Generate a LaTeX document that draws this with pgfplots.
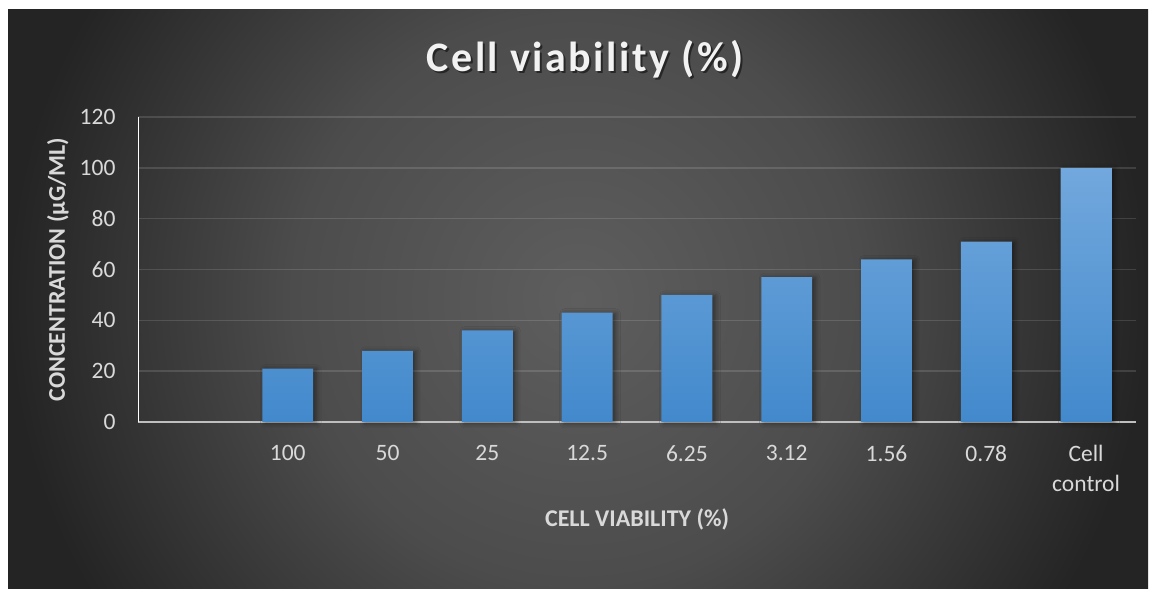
\documentclass[border=0pt]{standalone}
\usepackage{pgfplots}
\pgfplotsset{compat=1.18}
\usepackage{fontspec}
\setmainfont{Carlito}
\newfontfamily\titlefont[LetterSpace=6]{Carlito}
\usetikzlibrary{shadows.blur}

\definecolor{panelin}{RGB}{94,94,94}
\definecolor{panelmid}{RGB}{76,76,76}
\definecolor{panelout}{RGB}{36,36,36}
\definecolor{bartop}{RGB}{114,168,221}
\definecolor{barbot}{RGB}{66,137,204}
\definecolor{labelgray}{RGB}{217,217,217}
\definecolor{titlewhite}{RGB}{242,242,242}
\definecolor{baseline}{RGB}{191,191,191}

\pgfdeclareradialshading{panelshade}{\pgfpoint{0bp}{0bp}}{%
  color(0bp)=(panelin); color(12.5bp)=(panelmid); color(25bp)=(panelout); color(50bp)=(panelout)}

\begin{document}
\begin{tikzpicture}[x=1pt,y=1pt]
  \useasboundingbox (0,0) rectangle (1156,589);
  \fill[white] (0,0) rectangle (1156,589);
  % dark chart panel with a round glow in its middle
  \begin{scope}
    \clip (8,1) rectangle (1148,579);
    \shade[shading=panelshade] (8,-280) rectangle (1148,860);
  \end{scope}

  \begin{axis}[
    at={(138pt,167pt)}, anchor=south west,
    scale only axis, width=998pt, height=305pt,
    xmin=-0.5, xmax=9.5, ymin=0, ymax=120,
    ytick={0,20,...,120},
    xtick={1,...,9},
    xticklabels={100,50,25,12.5,6.25,3.12,1.56,0.78,{Cell\\control}},
    /pgf/number format/assume math mode=true,
    ticklabel style={font=\fontsize{23.5}{30}\selectfont, text=labelgray},
    xticklabel style={align=center, yshift=-20pt},
    yticklabel style={xshift=-19pt},
    major tick length=0pt,
    axis x line*=bottom, axis y line*=left,
    x axis line style={draw=baseline, line width=2pt, -},
    y axis line style={draw=white, line width=1pt, -},
    ymajorgrids,
    grid style={draw=white, opacity=0.13, line width=1.5pt},
    xlabel={CELL VIABILITY (\%)},
    xlabel style={at={(axis description cs:0.5,-0.343)}, anchor=base,
      font=\fontsize{24}{28}\selectfont\bfseries, text=labelgray},
    ylabel={CONCENTRATION (µG/ML)},
    ylabel style={at={(axis description cs:-0.0802,0.5)}, anchor=center,
      font=\fontsize{24}{28}\selectfont\bfseries, text=labelgray},
    ybar, bar width=0.51,
    clip=false,
  ]
    \addplot[draw=none, top color=bartop, bottom color=barbot,
      blur shadow={shadow xshift=3pt, shadow yshift=-1pt,
        shadow blur radius=5pt, shadow opacity=45}]
      coordinates {(1,21) (2,28) (3,36) (4,43) (5,50) (6,57) (7,64) (8,71) (9,100)};
  \end{axis}

  % title with a light drop shadow
  \node[anchor=base, font=\fontsize{42}{50}\titlefont\bfseries, text=black, opacity=0.5]
    at (587,515.8) {Cell viability (\%)};
  \node[anchor=base, font=\fontsize{42}{50}\titlefont\bfseries, text=titlewhite]
    at (585,517.3) {Cell viability (\%)};
\end{tikzpicture}
\end{document}
